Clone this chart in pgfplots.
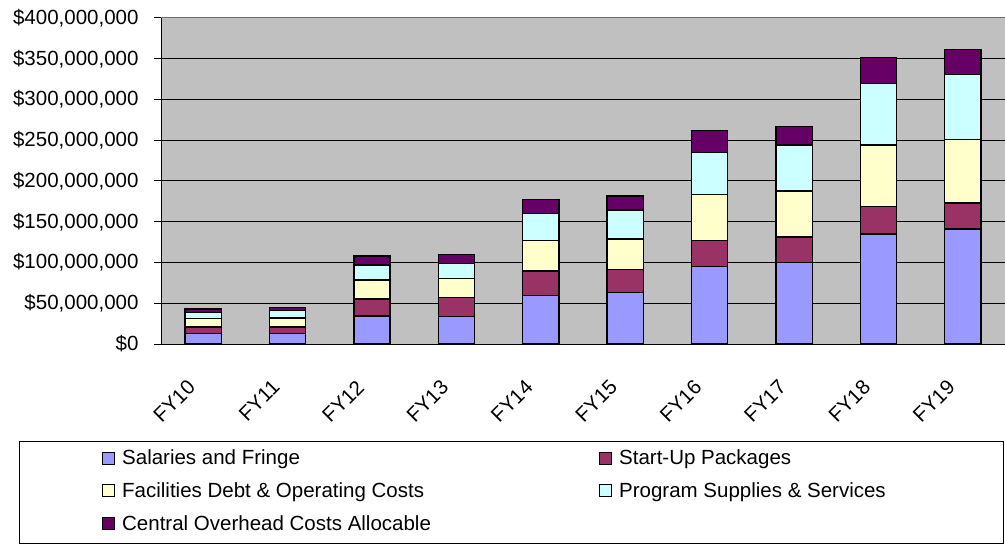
\documentclass[border=0pt]{standalone}
\usepackage{pgfplots}
\pgfplotsset{compat=1.18}
\usepackage{fontspec}
\setmainfont{Liberation Sans}
\definecolor{salc}{HTML}{9999FF}
\definecolor{startc}{HTML}{993366}
\definecolor{facc}{HTML}{FFFFCC}
\definecolor{progc}{HTML}{CCFFFF}
\definecolor{ovhc}{HTML}{660066}
\definecolor{bgc}{HTML}{C0C0C0}
\newcommand\labfour{\$400,000,000}
\begin{document}
\begin{tikzpicture}
\useasboundingbox (0,0) rectangle (1005bp,546bp);
\draw[black, line width=1bp] (19bp,2bp) rectangle (1003bp,104bp);
\begin{axis}[
  at={(161bp,202bp)}, anchor=south west,
  scale only axis, width=844bp, height=326bp,
  font=\fontsize{20.5bp}{24bp}\selectfont,
  ybar stacked, bar width=0.43,
  xmin=-0.5, xmax=9.5, ymin=0, ymax=400,
  axis background/.style={fill=bgc},
  axis x line*=bottom, axis y line*=left,
  axis line style={black, line width=1bp, -},
  xtick={0,...,9},
  xticklabels={FY10,FY11,FY12,FY13,FY14,FY15,FY16,FY17,FY18,FY19},
  major x tick style={draw=none},
  xticklabel style={rotate=45, anchor=east, yshift=-15bp, xshift=-28bp},
  extra x ticks={-0.5,0.5,1.5,2.5,3.5,4.5,5.5,6.5,7.5,8.5,9.5},
  extra x tick labels={},
  extra x tick style={major tick length=7bp, tick align=outside, tick style={black, line width=1bp}},
  ytick={0,50,...,350},
  yticklabels={{\$0},{\$50,000,000},{\$100,000,000},{\$150,000,000},{\$200,000,000},{\$250,000,000},{\$300,000,000},{\$350,000,000}},
  extra y ticks={400},
  extra y tick labels={\labfour},
  extra y tick style={grid style={gray!85!black, line width=1bp}},
  yticklabel style={xshift=-12bp},
  tick align=outside, major tick length=7bp,
  y tick style={black, line width=1bp},
  ymajorgrids, grid style={black, line width=1bp},
  legend columns=2,
  legend cell align=left,
  legend style={draw=none, fill=none, at={(-0.0705,-0.318)}, anchor=north west,
    font=\fontsize{20.5bp}{24bp}\selectfont, row sep=12.5bp, inner sep=0pt},
  legend image code/.code={\draw[#1, draw=black, line width=1bp] (0bp,-6bp) rectangle (12bp,6bp);},
  every axis plot/.append style={draw=black, line width=1.3bp},
]
\addplot[fill=salc] coordinates {(0,13) (1,13) (2,34.4) (3,34) (4,59.8) (5,63.4) (6,95) (7,99.8) (8,135) (9,141.1)};
\addplot[fill=startc] coordinates {(0,8) (1,8) (2,20.8) (3,23.3) (4,29.8) (5,27.8) (6,31.8) (7,31.5) (8,33.5) (9,31.9)};
\addplot[fill=facc] coordinates {(0,10.5) (1,11) (2,23.3) (3,23.3) (4,37.2) (5,37.6) (6,56.9) (7,56.4) (8,75.7) (9,77.7)};
\addplot[fill=progc] coordinates {(0,7.5) (1,9) (2,18.5) (3,18.4) (4,33.5) (5,35.6) (6,51.5) (7,56.5) (8,75.2) (9,79.7)};
\addplot[fill=ovhc] coordinates {(0,4) (1,4) (2,11) (3,11) (4,17.2) (5,17.2) (6,26.5) (7,22.9) (8,31.9) (9,31.2)};
\legend{\makebox[480bp][l]{\hspace*{5.5bp}Salaries and Fringe},\hspace*{5.5bp}Start-Up Packages,\makebox[480bp][l]{\hspace*{5.5bp}Facilities Debt \& Operating Costs},\hspace*{5.5bp}Program Supplies \& Services,\makebox[480bp][l]{\hspace*{5.5bp}Central Overhead Costs Allocable}}
\end{axis}
\end{tikzpicture}
\end{document}
